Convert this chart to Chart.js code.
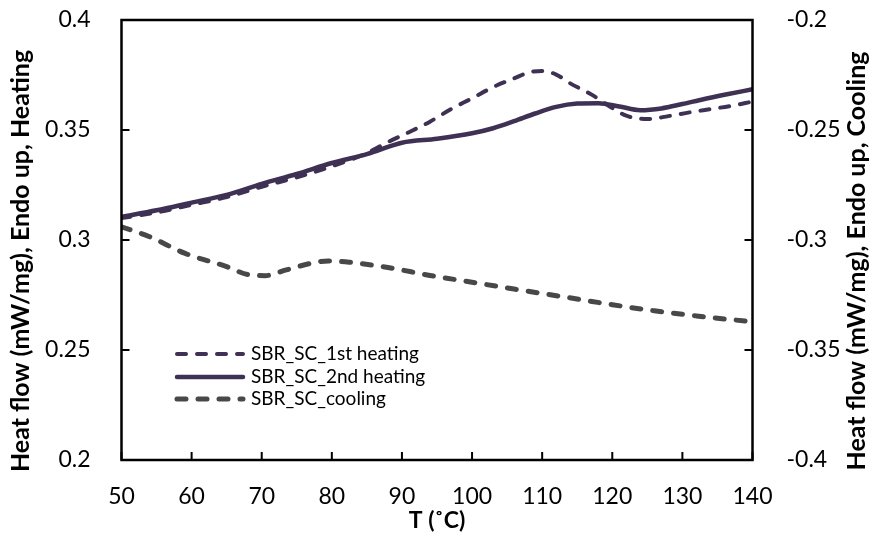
<!DOCTYPE html>
<html>
<head>
<meta charset="utf-8">
<script src="https://cdn.jsdelivr.net/npm/chart.js@4/dist/chart.umd.min.js"></script>
<style>
  html, body { margin: 0; padding: 0; background: #ffffff; }
  #wrap { width: 870px; height: 539px; position: relative; }
</style>
</head>
<body>
<div id="wrap"><canvas id="c" width="870" height="539"></canvas></div>
<script>
// DSC heat flow of SBR_SC: first and second heating (left axis), cooling (right axis)
const tempHeat1 = [50, 55, 60, 65, 70, 75, 80, 85, 88, 91, 94, 97, 100, 103, 106, 108.5, 110, 112, 114, 117, 120, 122, 125, 128, 131, 134, 137, 140];
const heatFlow1 = [0.3100, 0.3125, 0.3160, 0.3195, 0.3242, 0.3285, 0.3335, 0.3395, 0.3445, 0.3490, 0.3538, 0.3595, 0.3644, 0.3695, 0.3735, 0.3765, 0.3768, 0.3752, 0.3712, 0.3662, 0.3600, 0.3565, 0.3550, 0.3563, 0.3580, 0.3595, 0.3610, 0.3629];

const tempHeat2 = [50, 55, 60, 65, 70, 75, 80, 85, 90, 95, 100, 103, 106, 109, 112, 115, 118, 121, 124, 127, 130, 133, 136, 140];
const heatFlow2 = [0.3105, 0.3135, 0.3170, 0.3205, 0.3255, 0.3300, 0.3350, 0.3390, 0.3442, 0.3460, 0.3485, 0.3508, 0.3540, 0.3575, 0.3605, 0.3620, 0.3622, 0.3607, 0.3590, 0.3598, 0.3618, 0.3640, 0.3660, 0.3685];

const tempCool = [50, 54, 59, 65, 68, 70.5, 73.5, 77, 79.5, 82.5, 88, 94, 100, 106, 113, 120, 126, 132, 140];
const heatFlowCool = [-0.2940, -0.2985, -0.3060, -0.3121, -0.3157, -0.3162, -0.3136, -0.3106, -0.3095, -0.3101, -0.3125, -0.3161, -0.3192, -0.3223, -0.3258, -0.3294, -0.3322, -0.3345, -0.3372];

const xTicks = [50, 60, 70, 80, 90, 100, 110, 120, 130, 140];
const yTicksHeating = [0.2, 0.25, 0.3, 0.35, 0.4];
const yTicksCooling = [-0.4, -0.35, -0.3, -0.25, -0.2];

const seriesNames = ['SBR_SC_1st heating', 'SBR_SC_2nd heating', 'SBR_SC_cooling'];
const xTitle = 'T (\u02DAC)';
const yTitleHeating = 'Heat flow (mW/mg), Endo up, Heating';
const yTitleCooling = 'Heat flow (mW/mg), Endo up, Cooling';

const PURPLE = '#3e3153';
const GREY = '#484848';
const FONT = 'Lato, "Open Sans", sans-serif';

const toPoints = (xs, ys) => xs.map((x, i) => ({ x: x, y: ys[i] }));
const fmt = v => String(+Number(v).toFixed(2));
const fitVertical = w => s => { s.width = w; s.paddingTop = 0; s.paddingBottom = 0; };

// Frame, inward tick marks, axis titles and the in-plot legend
const framePlugin = {
  id: 'frame',
  afterDatasetsDraw(chart) {
    const ctx = chart.ctx;
    const a = chart.chartArea;
    const sx = chart.scales.x, sy = chart.scales.y, sy2 = chart.scales.y2;
    const tick = 8;
    ctx.save();
    ctx.strokeStyle = '#000';
    ctx.lineWidth = 2.5;
    ctx.strokeRect(a.left, a.top, a.right - a.left, a.bottom - a.top);
    ctx.lineWidth = 2;
    ctx.beginPath();
    xTicks.forEach(v => {
      const px = sx.getPixelForValue(v);
      ctx.moveTo(px, a.bottom); ctx.lineTo(px, a.bottom - tick);
    });
    yTicksHeating.forEach(v => {
      const py = sy.getPixelForValue(v);
      ctx.moveTo(a.left, py); ctx.lineTo(a.left + tick, py);
    });
    yTicksCooling.forEach(v => {
      const py = sy2.getPixelForValue(v);
      ctx.moveTo(a.right, py); ctx.lineTo(a.right - tick, py);
    });
    ctx.stroke();

    // axis titles
    ctx.fillStyle = '#000';
    ctx.textAlign = 'center';
    ctx.textBaseline = 'middle';
    ctx.font = 'bold 23px ' + FONT;
    ctx.fillText(xTitle, 437, 521);
    ctx.font = 'bold 25px ' + FONT;
    ctx.save();
    ctx.translate(21, 261);
    ctx.rotate(-Math.PI / 2);
    ctx.fillText(yTitleHeating, 0, 0);
    ctx.restore();
    ctx.save();
    ctx.translate(857, 261);
    ctx.rotate(-Math.PI / 2);
    ctx.fillText(yTitleCooling, 0, 0);
    ctx.restore();

    // legend
    const rows = [354, 377, 399];
    chart.data.datasets.forEach((ds, i) => {
      const y = rows[i];
      ctx.save();
      ctx.strokeStyle = ds.borderColor;
      ctx.lineWidth = ds.borderWidth;
      ctx.lineCap = 'round';
      ctx.setLineDash(ds.borderDash || []);
      ctx.beginPath();
      ctx.moveTo(177, y); ctx.lineTo(243, y);
      ctx.stroke();
      ctx.restore();
      ctx.fillStyle = '#000';
      ctx.font = '19px ' + FONT;
      ctx.textAlign = 'left';
      ctx.fillText(ds.label, 251, y);
    });
    ctx.restore();
  }
};

new Chart(document.getElementById('c'), {
  type: 'line',
  data: {
    datasets: [
      {
        label: seriesNames[0],
        data: toPoints(tempHeat1, heatFlow1),
        yAxisID: 'y',
        borderColor: PURPLE,
        borderWidth: 4,
        borderDash: [9, 11],
        borderCapStyle: 'round',
        cubicInterpolationMode: 'monotone',
        pointRadius: 0,
        fill: false
      },
      {
        label: seriesNames[1],
        data: toPoints(tempHeat2, heatFlow2),
        yAxisID: 'y',
        borderColor: PURPLE,
        borderWidth: 4.5,
        borderCapStyle: 'round',
        cubicInterpolationMode: 'monotone',
        pointRadius: 0,
        fill: false
      },
      {
        label: seriesNames[2],
        data: toPoints(tempCool, heatFlowCool),
        yAxisID: 'y2',
        borderColor: GREY,
        borderWidth: 5,
        borderDash: [9, 12],
        borderCapStyle: 'round',
        cubicInterpolationMode: 'monotone',
        pointRadius: 0,
        fill: false
      }
    ]
  },
  options: {
    responsive: false,
    maintainAspectRatio: false,
    animation: false,
    events: [],
    layout: { padding: { top: 20, left: 0, right: 0, bottom: 0 } },
    plugins: { legend: { display: false }, tooltip: { enabled: false } },
    scales: {
      x: {
        type: 'linear',
        min: 50, max: 140,
        afterBuildTicks: s => { s.ticks = xTicks.map(v => ({ value: v })); },
        afterFit: s => { s.height = 79; s.paddingLeft = 0; s.paddingRight = 0; },
        grid: { display: false },
        border: { display: false },
        ticks: { color: '#000', font: { family: FONT, size: 23 }, padding: 15, maxRotation: 0, callback: v => fmt(v) }
      },
      y: {
        position: 'left',
        min: 0.2, max: 0.4,
        afterBuildTicks: s => { s.ticks = yTicksHeating.map(v => ({ value: v })); },
        afterFit: fitVertical(121.5),
        grid: { display: false },
        border: { display: false },
        ticks: { color: '#000', font: { family: FONT, size: 23 }, padding: 23, callback: v => fmt(v) }
      },
      y2: {
        position: 'right',
        min: -0.4, max: -0.2,
        afterBuildTicks: s => { s.ticks = yTicksCooling.map(v => ({ value: v })); },
        afterFit: fitVertical(117.5),
        grid: { display: false },
        border: { display: false },
        ticks: { color: '#000', font: { family: FONT, size: 23 }, padding: 26, callback: v => fmt(v) }
      }
    }
  },
  plugins: [framePlugin]
});
</script>
</body>
</html>
